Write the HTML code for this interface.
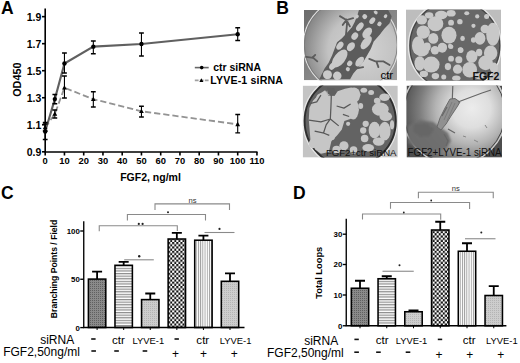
<!DOCTYPE html>
<html><head><meta charset="utf-8"><style>html,body{margin:0;padding:0;background:#fff;width:520px;height:363px;overflow:hidden}</style></head>
<body>
<svg width="520" height="363" viewBox="0 0 520 363" style="display:block;font-family:'Liberation Sans', sans-serif">
<defs>
<pattern id="pDark" width="2" height="2" patternUnits="userSpaceOnUse"><rect width="2" height="2" fill="#8a8a8a"/><rect width="1" height="1" fill="#606060"/></pattern>
<pattern id="pH" width="2.6" height="2.6" patternUnits="userSpaceOnUse"><rect width="2.6" height="2.6" fill="#fff"/><rect y="0" width="2.6" height="1.2" fill="#8c8c8c"/></pattern>
<pattern id="pV" width="2.2" height="2.2" patternUnits="userSpaceOnUse"><rect width="2.2" height="2.2" fill="#fff"/><rect x="0" width="0.9" height="2.2" fill="#9a9a9a"/></pattern>
<pattern id="pLight" width="2" height="2" patternUnits="userSpaceOnUse"><rect width="2" height="2" fill="#cdcdcd"/><rect width="1" height="1" fill="#b4b4b4"/></pattern>
<pattern id="pChk" width="4.1" height="4.4" patternUnits="userSpaceOnUse"><rect width="4.1" height="4.4" fill="#fff"/><rect width="2.05" height="2.2" fill="#111"/><rect x="2.05" y="2.2" width="2.05" height="2.2" fill="#111"/></pattern>
</defs>
<rect width="520" height="363" fill="#fff"/>
<text x="0.9" y="13.8" font-size="17.5" font-weight="bold">A</text>
<g stroke="#000" stroke-width="1.6" fill="none">
<path d="M45.2 8.5 V152.8 M44.4 152 H257.5"/>
<path d="M42 151.80 H45"/>
<path d="M42 124.77 H45"/>
<path d="M42 97.74 H45"/>
<path d="M42 70.71 H45"/>
<path d="M42 43.68 H45"/>
<path d="M42 16.65 H45"/>
<path d="M45.20 152 V155.5"/>
<path d="M64.45 152 V155.5"/>
<path d="M83.70 152 V155.5"/>
<path d="M102.95 152 V155.5"/>
<path d="M122.20 152 V155.5"/>
<path d="M141.45 152 V155.5"/>
<path d="M160.70 152 V155.5"/>
<path d="M179.95 152 V155.5"/>
<path d="M199.20 152 V155.5"/>
<path d="M218.45 152 V155.5"/>
<path d="M237.70 152 V155.5"/>
<path d="M256.95 152 V155.5"/>
</g>
<g font-size="10.5" font-weight="bold" text-anchor="end">
<text x="41.3" y="156.10">0.9</text>
<text x="41.3" y="129.07">1.1</text>
<text x="41.3" y="102.04">1.3</text>
<text x="41.3" y="75.01">1.5</text>
<text x="41.3" y="47.98">1.7</text>
<text x="41.3" y="20.95">1.9</text>
</g>
<g font-size="9.4" font-weight="bold" text-anchor="middle">
<text x="45.20" y="163.8">0</text>
<text x="64.45" y="163.8">10</text>
<text x="83.70" y="163.8">20</text>
<text x="102.95" y="163.8">30</text>
<text x="122.20" y="163.8">40</text>
<text x="141.45" y="163.8">50</text>
<text x="160.70" y="163.8">60</text>
<text x="179.95" y="163.8">70</text>
<text x="199.20" y="163.8">80</text>
<text x="218.45" y="163.8">90</text>
<text x="237.70" y="163.8">100</text>
<text x="256.95" y="163.8">110</text>
</g>
<text x="150.5" y="181.2" font-size="10.5" font-weight="bold" text-anchor="middle">FGF2, ng/ml</text>
<text transform="translate(21.2 79.7) rotate(-90)" font-size="10.8" font-weight="bold" text-anchor="middle">OD450</text>
<polyline points="45.20,127.47 54.83,113.96 64.45,87.74 93.33,99.23 141.45,111.26 237.70,124.36" fill="none" stroke="#939393" stroke-width="1.8" stroke-dasharray="6.2 3"/>
<polyline points="45.20,131.53 54.83,99.09 64.45,63.55 93.33,46.65 141.45,43.95 237.70,34.22" fill="none" stroke="#606060" stroke-width="2.1"/>
<g stroke="#000" fill="none">
<path d="M45.20 122.5 V139.5" stroke-width="1.1"/><path d="M42.80 122.5 H47.60 M42.80 139.5 H47.60" stroke-width="1.4"/>
<path d="M54.83 94.5 V103.75" stroke-width="1.1"/><path d="M52.43 94.5 H57.23 M52.43 103.75 H57.23" stroke-width="1.4"/>
<path d="M64.45 53 V73" stroke-width="1.1"/><path d="M62.05 53 H66.85 M62.05 73 H66.85" stroke-width="1.4"/>
<path d="M93.33 41 V53.75" stroke-width="1.1"/><path d="M90.92 41 H95.73 M90.92 53.75 H95.73" stroke-width="1.4"/>
<path d="M141.45 33 V56" stroke-width="1.1"/><path d="M139.05 33 H143.85 M139.05 56 H143.85" stroke-width="1.4"/>
<path d="M237.70 27.8 V40.5" stroke-width="1.1"/><path d="M235.30 27.8 H240.10 M235.30 40.5 H240.10" stroke-width="1.4"/>
<path d="M45.20 124 V131" stroke-width="1.1"/><path d="M42.80 124 H47.60 M42.80 131 H47.60" stroke-width="1.4"/>
<path d="M54.83 110 V118" stroke-width="1.1"/><path d="M52.43 110 H57.23 M52.43 118 H57.23" stroke-width="1.4"/>
<path d="M64.45 76 V98" stroke-width="1.1"/><path d="M62.05 76 H66.85 M62.05 98 H66.85" stroke-width="1.4"/>
<path d="M93.33 91.75 V107" stroke-width="1.1"/><path d="M90.92 91.75 H95.73 M90.92 107 H95.73" stroke-width="1.4"/>
<path d="M141.45 106.25 V117" stroke-width="1.1"/><path d="M139.05 106.25 H143.85 M139.05 117 H143.85" stroke-width="1.4"/>
<path d="M237.70 114.5 V132.9" stroke-width="1.1"/><path d="M235.30 114.5 H240.10 M235.30 132.9 H240.10" stroke-width="1.4"/>
</g>
<circle cx="45.20" cy="131.53" r="2.2" fill="#000"/>
<circle cx="54.83" cy="99.09" r="2.2" fill="#000"/>
<circle cx="64.45" cy="63.55" r="2.2" fill="#000"/>
<circle cx="93.33" cy="46.65" r="2.2" fill="#000"/>
<circle cx="141.45" cy="43.95" r="2.2" fill="#000"/>
<circle cx="237.70" cy="34.22" r="2.2" fill="#000"/>
<path d="M45.20 124.87 L47.60 129.27 L42.80 129.27Z" fill="#000"/>
<path d="M54.83 111.36 L57.23 115.76 L52.43 115.76Z" fill="#000"/>
<path d="M64.45 85.14 L66.85 89.54 L62.05 89.54Z" fill="#000"/>
<path d="M93.33 96.63 L95.73 101.03 L90.92 101.03Z" fill="#000"/>
<path d="M141.45 108.66 L143.85 113.06 L139.05 113.06Z" fill="#000"/>
<path d="M237.70 121.76 L240.10 126.16 L235.30 126.16Z" fill="#000"/>
<path d="M194.8 67.6 H208.7" stroke="#686868" stroke-width="1.6"/>
<circle cx="201.7" cy="67.6" r="1.8"/>
<path d="M194.8 80.4 H208.7" stroke="#a0a0a0" stroke-width="1.6" stroke-dasharray="3.8 1.2"/>
<path d="M201.4 78.2 L203.4 82 L199.4 82Z"/>
<text x="213.2" y="71.2" font-size="10.5" font-weight="bold">ctr siRNA</text>
<text x="210.3" y="83.8" font-size="10.6" font-weight="bold" letter-spacing="0.16">LYVE-1 siRNA</text>
<text x="276.2" y="13.85" font-size="17.5" font-weight="bold">B</text>
<defs>
<clipPath id="c1"><rect x="304" y="10" width="93.1" height="70.3"/></clipPath>
<clipPath id="c2"><rect x="406" y="9.4" width="95" height="71.4"/></clipPath>
<clipPath id="c3"><rect x="302.7" y="85.6" width="95.1" height="72"/></clipPath>
<clipPath id="c4"><rect x="406.5" y="85.6" width="95.5" height="72"/></clipPath>
<radialGradient id="g1" cx="0.62" cy="0.55" r="0.6"><stop offset="0" stop-color="#d4d4d4"/><stop offset="0.6" stop-color="#c2c2c2"/><stop offset="1" stop-color="#8a8a8a"/></radialGradient>
<linearGradient id="g1o" x1="0" y1="0" x2="1" y2="1"><stop offset="0" stop-color="#6c6c6c"/><stop offset="1" stop-color="#a0a0a0"/></linearGradient>
<radialGradient id="g4" cx="0.68" cy="0.5" r="0.65"><stop offset="0" stop-color="#e6e6e6"/><stop offset="0.45" stop-color="#d0d0d0"/><stop offset="0.8" stop-color="#9a9a9a"/><stop offset="1" stop-color="#6a6a6a"/></radialGradient>
<filter id="bl" x="-5%" y="-5%" width="110%" height="110%"><feGaussianBlur stdDeviation="0.5"/></filter><filter id="bl2" x="-20%" y="-20%" width="140%" height="140%"><feGaussianBlur stdDeviation="1.1"/></filter>
</defs>
<g clip-path="url(#c1)">
<rect x="304" y="10" width="93.1" height="70.3" fill="url(#g1o)"/>
<g transform="translate(302 8) scale(0.20375)">
<circle cx="239.5" cy="181.6" r="233" fill="url(#g1)" stroke="#e0e0e0" stroke-width="5"/>
<circle cx="239.5" cy="181.6" r="228" fill="none" stroke="#777" stroke-width="4"/>
<g filter="url(#bl)">
<path fill="#5c5c5c" d="M85 350 L100 320 L110 298 L130 270 L148 232 L160 200 L172 168 L196 148 L222 120 L245 95 L258 70 L270 40 L280 8 L420 5 L440 40 L430 75 L405 100 L378 135 L352 165 L338 200 L320 232 L302 262 L275 295 L252 322 L236 350 Z"/>
<path fill="none" stroke="#5c5c5c" stroke-width="9" stroke-linecap="round" d="M186 40 L218 59 L251 50 M200 83 L218 59 L235 90 M218 59 L221 78 L215 142 M20 240 L55 245 L75 262 M50 245 L65 230 M330 250 L360 262 L400 262 L430 280 M365 262 L375 290 M345 140 L380 125 M120 300 L100 330 M250 300 L300 290"/>
<g fill="#c9c9c9">
<ellipse cx="185" cy="248" rx="27" ry="52" transform="rotate(38 185 248)"/>
<ellipse cx="240" cy="190" rx="17" ry="24" transform="rotate(38 240 190)"/>
<ellipse cx="315" cy="170" rx="19" ry="38" transform="rotate(38 315 170)"/>
<ellipse cx="234" cy="272" rx="12" ry="14" transform="rotate(38 234 272)"/>
<ellipse cx="283" cy="263" rx="16" ry="28" transform="rotate(38 283 263)"/>
<ellipse cx="125" cy="327" rx="22" ry="22" transform="rotate(38 125 327)"/>
<ellipse cx="173" cy="333" rx="21" ry="21" transform="rotate(38 173 333)"/>
<ellipse cx="225" cy="300" rx="10" ry="10" transform="rotate(38 225 300)"/>
<ellipse cx="259" cy="138" rx="15" ry="19" transform="rotate(38 259 138)"/>
<ellipse cx="308" cy="42" rx="12" ry="12" transform="rotate(38 308 42)"/>
<ellipse cx="284" cy="92" rx="14" ry="24" transform="rotate(38 284 92)"/>
<ellipse cx="320" cy="122" rx="19" ry="30" transform="rotate(38 320 122)"/>
<ellipse cx="186" cy="185" rx="14" ry="22" transform="rotate(38 186 185)"/>
<ellipse cx="345" cy="62" rx="12" ry="18" transform="rotate(38 345 62)"/>
<ellipse cx="380" cy="78" rx="10" ry="12" transform="rotate(38 380 78)"/>
<ellipse cx="362" cy="22" rx="10" ry="8" transform="rotate(38 362 22)"/>
<ellipse cx="150" cy="285" rx="14" ry="20" transform="rotate(38 150 285)"/>
<ellipse cx="270" cy="42" rx="8" ry="10" transform="rotate(38 270 42)"/>
<ellipse cx="410" cy="40" rx="8" ry="10" transform="rotate(38 410 40)"/>
</g>
</g>
</g>
<text x="380.4" y="79" font-size="11.5" font-family="'Liberation Sans', sans-serif">ctr</text>
</g>
<g clip-path="url(#c2)">
<rect x="406" y="9.4" width="95" height="71.4" fill="#bdbdbd"/>
<g transform="translate(404 7) scale(0.20921)">
<circle cx="243" cy="185" r="222" fill="none" stroke="#e6e6e6" stroke-width="6"/>
<circle cx="243" cy="185" r="215" fill="#676767" stroke="#444" stroke-width="6"/>
<g fill="#c8c8c8" filter="url(#bl)">
<ellipse cx="150" cy="80" rx="38" ry="36"/>
<ellipse cx="178" cy="38" rx="30" ry="20"/>
<ellipse cx="92" cy="120" rx="32" ry="32"/>
<ellipse cx="140" cy="150" rx="24" ry="26"/>
<ellipse cx="85" cy="62" rx="25" ry="22"/>
<ellipse cx="120" cy="40" rx="20" ry="15"/>
<ellipse cx="225" cy="30" rx="22" ry="16"/>
<ellipse cx="68" cy="185" rx="30" ry="45"/>
<ellipse cx="110" cy="190" rx="18" ry="20"/>
<ellipse cx="225" cy="75" rx="14" ry="14"/>
<ellipse cx="267" cy="70" rx="13" ry="13"/>
<ellipse cx="332" cy="90" rx="10" ry="10"/>
<ellipse cx="387" cy="105" rx="21" ry="20"/>
<ellipse cx="363" cy="150" rx="26" ry="30"/>
<ellipse cx="332" cy="158" rx="12" ry="13"/>
<ellipse cx="280" cy="150" rx="11" ry="12"/>
<ellipse cx="425" cy="130" rx="32" ry="55"/>
<ellipse cx="300" cy="30" rx="12" ry="10"/>
<ellipse cx="350" cy="45" rx="10" ry="10"/>
<ellipse cx="395" cy="45" rx="12" ry="12"/>
<ellipse cx="215" cy="135" rx="36" ry="40"/>
<ellipse cx="183" cy="195" rx="22" ry="24"/>
<ellipse cx="225" cy="190" rx="11" ry="11"/>
<ellipse cx="270" cy="205" rx="13" ry="13"/>
<ellipse cx="85" cy="205" rx="35" ry="32"/>
<ellipse cx="130" cy="275" rx="40" ry="38"/>
<ellipse cx="148" cy="207" rx="20" ry="20"/>
<ellipse cx="190" cy="192" rx="15" ry="15"/>
<ellipse cx="75" cy="270" rx="25" ry="35"/>
<ellipse cx="210" cy="285" rx="15" ry="17"/>
<ellipse cx="225" cy="247" rx="14" ry="14"/>
<ellipse cx="220" cy="187" rx="10" ry="12"/>
<ellipse cx="190" cy="335" rx="12" ry="12"/>
<ellipse cx="150" cy="330" rx="18" ry="15"/>
<ellipse cx="95" cy="320" rx="20" ry="15"/>
<ellipse cx="324" cy="237" rx="27" ry="30"/>
<ellipse cx="314" cy="300" rx="35" ry="37"/>
<ellipse cx="359" cy="217" rx="15" ry="18"/>
<ellipse cx="390" cy="267" rx="35" ry="35"/>
<ellipse cx="414" cy="220" rx="32" ry="36"/>
<ellipse cx="271" cy="207" rx="13" ry="13"/>
<ellipse cx="262" cy="252" rx="17" ry="17"/>
<ellipse cx="256" cy="297" rx="22" ry="22"/>
<ellipse cx="430" cy="290" rx="20" ry="25"/>
<ellipse cx="250" cy="340" rx="20" ry="12"/>
<ellipse cx="360" cy="330" rx="25" ry="15"/>
</g>
</g>
<text x="472.5" y="79.8" font-size="10.5" font-weight="bold" font-family="'Liberation Sans', sans-serif" fill="#111">FGF2</text>
</g>
<g clip-path="url(#c3)">
<rect x="302.7" y="85.6" width="95.1" height="72" fill="#c4c4c4"/>
<g transform="translate(300 83) scale(0.20921)">
<circle cx="240" cy="182" r="226" fill="none" stroke="#e6e6e6" stroke-width="6"/>
<circle cx="240" cy="182" r="218" fill="#636363" stroke="#2e2e2e" stroke-width="9"/>
<g fill="#c6c6c6" filter="url(#bl)">
<path d="M42 175 L45 120 L62 85 L92 52 L120 35 L135 60 L165 62 L180 40 L215 28 L245 22 L275 30 L290 55 L282 80 L262 100 L282 128 L268 158 L240 172 L212 182 L200 222 L178 250 L150 278 L138 330 L100 338 L72 318 L50 272 Z"/>
<ellipse cx="258" cy="48" rx="28" ry="26"/>
<ellipse cx="255" cy="125" rx="26" ry="50"/>
<ellipse cx="384" cy="125" rx="40" ry="32"/>
<ellipse cx="369" cy="85" rx="16" ry="15"/>
<ellipse cx="404" cy="68" rx="25" ry="18"/>
<ellipse cx="410" cy="160" rx="30" ry="22"/>
<ellipse cx="314" cy="195" rx="15" ry="15"/>
<ellipse cx="302" cy="227" rx="15" ry="15"/>
<ellipse cx="309" cy="265" rx="18" ry="18"/>
<ellipse cx="356" cy="225" rx="28" ry="40"/>
<ellipse cx="405" cy="230" rx="28" ry="45"/>
<ellipse cx="376" cy="280" rx="28" ry="20"/>
<ellipse cx="326" cy="310" rx="28" ry="18"/>
<ellipse cx="256" cy="320" rx="18" ry="18"/>
<ellipse cx="305" cy="35" rx="16" ry="12"/>
<ellipse cx="340" cy="45" rx="14" ry="12"/>
<ellipse cx="210" cy="300" rx="22" ry="22"/>
<ellipse cx="175" cy="318" rx="20" ry="18"/>
<ellipse cx="152" cy="258" rx="15" ry="15"/>
<ellipse cx="60" cy="290" rx="18" ry="22"/>
<ellipse cx="100" cy="70" rx="22" ry="20"/>
<ellipse cx="140" cy="45" rx="14" ry="12"/>
<ellipse cx="230" cy="195" rx="10" ry="10"/>
<ellipse cx="290" cy="110" rx="12" ry="14"/>
<ellipse cx="440" cy="200" rx="10" ry="22"/>
</g>
<g filter="url(#bl)">
<path fill="none" stroke="#585858" stroke-width="6" stroke-linejoin="round" d="M150 50 L148 110 L145 172 L125 200 L112 240 M42 178 L100 186 L145 172 M42 100 L80 90 L100 58 M175 110 L210 120 L242 100 M145 172 L185 205 M70 230 L115 240 L140 250 M205 150 L235 160"/>
<path fill="#5e5e5e" d="M128 22 L165 25 L172 50 L150 62 L132 50 Z"/>
</g>
</g>
<text x="325.9" y="156.4" font-size="9.6" font-family="'Liberation Sans', sans-serif" fill="#111" textLength="70.6" lengthAdjust="spacingAndGlyphs">FGF2+ctr siRNA</text>
</g>
<g clip-path="url(#c4)">
<rect x="406.5" y="85.6" width="95.5" height="72" fill="#4e4e4e"/>
<radialGradient id="g4b" gradientUnits="userSpaceOnUse" cx="470" cy="110" r="64" fx="472" fy="108"><stop offset="0" stop-color="#ececec"/><stop offset="0.3" stop-color="#dedede"/><stop offset="0.55" stop-color="#b4b4b4"/><stop offset="0.8" stop-color="#7c7c7c"/><stop offset="1" stop-color="#5a5a5a"/></radialGradient>
<circle cx="454.5" cy="113" r="51.8" fill="url(#g4b)" stroke="#d0d0d0" stroke-width="1.3"/>
<circle cx="454.5" cy="113" r="50.5" fill="none" stroke="#454545" stroke-width="1"/>
<g filter="url(#bl2)">
<path fill="#6e6e6e" opacity="0.95" d="M408 126 L420 120 L433 122 L441 128 L448 133 L451 141 L446 149 L432 152 L418 150 L408 143 Z"/>
<path fill="#606060" opacity="0.6" d="M414 124 L426 123 L434 129 L430 136 L420 137 L413 131 Z"/>
</g>
<g filter="url(#bl)">
<path fill="#909090" stroke="#636363" stroke-width="0.9" d="M450 99 L455 98.5 L460 102 L457 107 L451 116 L446 124 L441 130 L437 127 L440 118 L445 108 Z"/>
<path fill="none" stroke="#777" stroke-width="0.8" d="M452 102 L444 120 M455 103 L447 121"/>
<path fill="none" stroke="#666" stroke-width="1.2" d="M452.8 86 L452.3 99 M458 102 L470 97.5 L482 93 L491 90 M447 107 L442 116 M444 134 L448 141 L446 146 M448 129 L455 133"/>
<path fill="none" stroke="#888" stroke-width="1" d="M474 140 L478 142 M463 136 L466 137 M485 125 L487 128"/>
</g>
<text x="407.6" y="156.4" font-size="10" font-family="'Liberation Sans', sans-serif" fill="#111" textLength="94" lengthAdjust="spacingAndGlyphs">FGF2+LYVE-1 siRNA</text>
</g>
<text x="1.0" y="198.9" font-size="17.5" font-weight="bold">C</text>
<g stroke="#000" stroke-width="1.8">
<path d="M97.10 279.1 V271.6 M92.10 271.6 H102.10" fill="none"/>
<rect x="88.40" y="279.1" width="17.4" height="48.40" fill="url(#pDark)" stroke-width="1.55"/>
<path d="M123.68 265.3 V261.8 M118.68 261.8 H128.68" fill="none"/>
<rect x="114.98" y="265.3" width="17.4" height="62.20" fill="url(#pH)" stroke-width="1.55"/>
<path d="M150.26 299.6 V293.5 M145.26 293.5 H155.26" fill="none"/>
<rect x="141.56" y="299.6" width="17.4" height="27.90" fill="url(#pLight)" stroke-width="1.55"/>
<path d="M176.84 239 V232.9 M171.84 232.9 H181.84" fill="none"/>
<rect x="168.14" y="239" width="17.4" height="88.50" fill="url(#pChk)" stroke-width="1.55"/>
<path d="M203.42 240.2 V235.7 M198.42 235.7 H208.42" fill="none"/>
<rect x="194.72" y="240.2" width="17.4" height="87.30" fill="url(#pV)" stroke-width="1.55"/>
<path d="M230.00 281.3 V273.3 M225.00 273.3 H235.00" fill="none"/>
<rect x="221.30" y="281.3" width="17.4" height="46.20" fill="url(#pLight)" stroke-width="1.55"/>
</g>
<g stroke="#000" stroke-width="1.35" fill="none">
<path d="M83.75 221.25 V327.5 H244.5"/>
<path d="M80.25 327.6 H83.75"/>
<path d="M80.25 279.25 H83.75"/>
<path d="M80.25 231 H83.75"/>
<path d="M97.10 327.5 V330.0" stroke-width="1"/>
<path d="M123.68 327.5 V330.0" stroke-width="1"/>
<path d="M150.26 327.5 V330.0" stroke-width="1"/>
<path d="M176.84 327.5 V330.0" stroke-width="1"/>
<path d="M203.42 327.5 V330.0" stroke-width="1"/>
<path d="M230.00 327.5 V330.0" stroke-width="1"/>
</g>
<g font-size="7.9" font-weight="bold" text-anchor="end">
<text x="79.85" y="330.5">0</text>
<text x="79.85" y="282.15">50</text>
<text x="79.85" y="233.9">100</text>
</g>
<g stroke="#8a8a8a" stroke-width="1.1" fill="none">
<path d="M99.25 231.25 V225.8 H177.3 V231"/>
<path d="M127.4 220.4 V214.5 H205.5 V220.4"/>
<path d="M155 210 V203.9 H229.5 V210"/>
<path d="M124.2 259.8 H153.8"/>
<path d="M204.5 232.5 H234.5"/>
</g>
<circle cx="138.8" cy="223.9" r="1.1" fill="#222"/>
<circle cx="142.6" cy="223.9" r="1.1" fill="#222"/>
<circle cx="168" cy="212.2" r="1.0" fill="#222"/>
<circle cx="139.2" cy="256.2" r="1.2" fill="#222"/>
<circle cx="219.5" cy="228.9" r="1.1" fill="#222"/>
<text x="188.6" y="202.6" font-size="7.6" fill="#333">ns</text>
<text transform="translate(57 269) rotate(-90)" font-size="8.6" font-weight="bold" text-anchor="middle">Branching Points / Field</text>
<text x="293" y="198.9" font-size="17.5" font-weight="bold">D</text>
<g stroke="#000" stroke-width="1.8">
<path d="M360.00 288.25 V280.75 M355.00 280.75 H365.00" fill="none"/>
<rect x="351.30" y="288.25" width="17.4" height="37.50" fill="url(#pDark)" stroke-width="1.55"/>
<path d="M386.75 278.75 V276.25 M381.75 276.25 H391.75" fill="none"/>
<rect x="378.05" y="278.75" width="17.4" height="47.00" fill="url(#pH)" stroke-width="1.55"/>
<path d="M413.50 311.75 V310.5 M408.50 310.5 H418.50" fill="none"/>
<rect x="404.80" y="311.75" width="17.4" height="14.00" fill="url(#pLight)" stroke-width="1.55"/>
<path d="M440.25 230 V221.75 M435.25 221.75 H445.25" fill="none"/>
<rect x="431.55" y="230" width="17.4" height="95.75" fill="url(#pChk)" stroke-width="1.55"/>
<path d="M467.00 251.25 V243.25 M462.00 243.25 H472.00" fill="none"/>
<rect x="458.30" y="251.25" width="17.4" height="74.50" fill="url(#pV)" stroke-width="1.55"/>
<path d="M493.75 295.5 V286.1 M488.75 286.1 H498.75" fill="none"/>
<rect x="485.05" y="295.5" width="17.4" height="30.25" fill="url(#pLight)" stroke-width="1.55"/>
</g>
<g stroke="#000" stroke-width="1.35" fill="none">
<path d="M346.25 218.75 V325.75 H506.4"/>
<path d="M342.75 325.75 H346.25"/>
<path d="M342.75 295 H346.25"/>
<path d="M342.75 264.5 H346.25"/>
<path d="M342.75 234.2 H346.25"/>
<path d="M360.00 325.75 V328.25" stroke-width="1"/>
<path d="M386.75 325.75 V328.25" stroke-width="1"/>
<path d="M413.50 325.75 V328.25" stroke-width="1"/>
<path d="M440.25 325.75 V328.25" stroke-width="1"/>
<path d="M467.00 325.75 V328.25" stroke-width="1"/>
<path d="M493.75 325.75 V328.25" stroke-width="1"/>
</g>
<g font-size="7.9" font-weight="bold" text-anchor="end">
<text x="342.35" y="328.65">0</text>
<text x="342.35" y="297.9">10</text>
<text x="342.35" y="267.4">20</text>
<text x="342.35" y="237.1">30</text>
</g>
<g stroke="#8a8a8a" stroke-width="1.1" fill="none">
<path d="M362.5 219.5 V214 H440.7 V219.7"/>
<path d="M390.5 208.8 V202.5 H469.6 V208.9"/>
<path d="M418.4 198.2 V192.3 H493.25 V198.2"/>
<path d="M382.5 271.25 H413.75"/>
<path d="M465 238.75 H495.5"/>
</g>
<circle cx="403.8" cy="212.5" r="0.9" fill="#222"/>
<circle cx="431.2" cy="200.5" r="0.9" fill="#222"/>
<circle cx="399.5" cy="265.2" r="1.0" fill="#222"/>
<circle cx="481.3" cy="232.6" r="1.0" fill="#222"/>
<text x="451.7" y="190.6" font-size="7.6" fill="#333">ns</text>
<text transform="translate(322.1 272.75) rotate(-90)" font-size="9.3" font-weight="bold" text-anchor="middle">Total Loops</text>
<text x="40.2" y="343.9" font-size="12">siRNA</text>
<text x="3.2" y="356.2" font-size="12">FGF2,50ng/ml</text>
<rect x="91.20" y="338.20" width="4.4" height="1.6" fill="#111"/>
<text x="118.35" y="344.3" font-size="11.6" text-anchor="middle">ctr</text>
<text x="148.35" y="344.3" font-size="9.4" text-anchor="middle">LYVE-1</text>
<rect x="174.50" y="338.20" width="4.4" height="1.6" fill="#111"/>
<text x="202.80" y="344.3" font-size="11.6" text-anchor="middle">ctr</text>
<text x="235.60" y="344.3" font-size="9.4" text-anchor="middle">LYVE-1</text>
<rect x="91.35" y="350.20" width="4.6" height="1.6" fill="#111"/>
<rect x="114.25" y="350.20" width="4.6" height="1.6" fill="#111"/>
<rect x="142.65" y="350.20" width="4.6" height="1.6" fill="#111"/>
<text x="175.60" y="358.4" font-size="12" text-anchor="middle">+</text>
<text x="203.40" y="358.4" font-size="12" text-anchor="middle">+</text>
<text x="234.30" y="358.4" font-size="12" text-anchor="middle">+</text>
<text x="304.2" y="344.8" font-size="12">siRNA</text>
<text x="267" y="357.0" font-size="12">FGF2,50ng/ml</text>
<rect x="354.40" y="338.60" width="4.4" height="1.6" fill="#111"/>
<text x="382.20" y="344.4" font-size="11.6" text-anchor="middle">ctr</text>
<text x="411.50" y="344.4" font-size="9.4" text-anchor="middle">LYVE-1</text>
<rect x="437.80" y="338.60" width="4.4" height="1.6" fill="#111"/>
<text x="469.20" y="344.4" font-size="11.6" text-anchor="middle">ctr</text>
<text x="501.80" y="344.4" font-size="9.4" text-anchor="middle">LYVE-1</text>
<rect x="354.30" y="351.40" width="4.6" height="1.6" fill="#111"/>
<rect x="376.15" y="351.40" width="4.6" height="1.6" fill="#111"/>
<rect x="405.70" y="351.40" width="4.6" height="1.6" fill="#111"/>
<text x="438.90" y="359.4" font-size="12" text-anchor="middle">+</text>
<text x="469.70" y="359.4" font-size="12" text-anchor="middle">+</text>
<text x="500.80" y="359.4" font-size="12" text-anchor="middle">+</text>
</svg>
</body></html>
